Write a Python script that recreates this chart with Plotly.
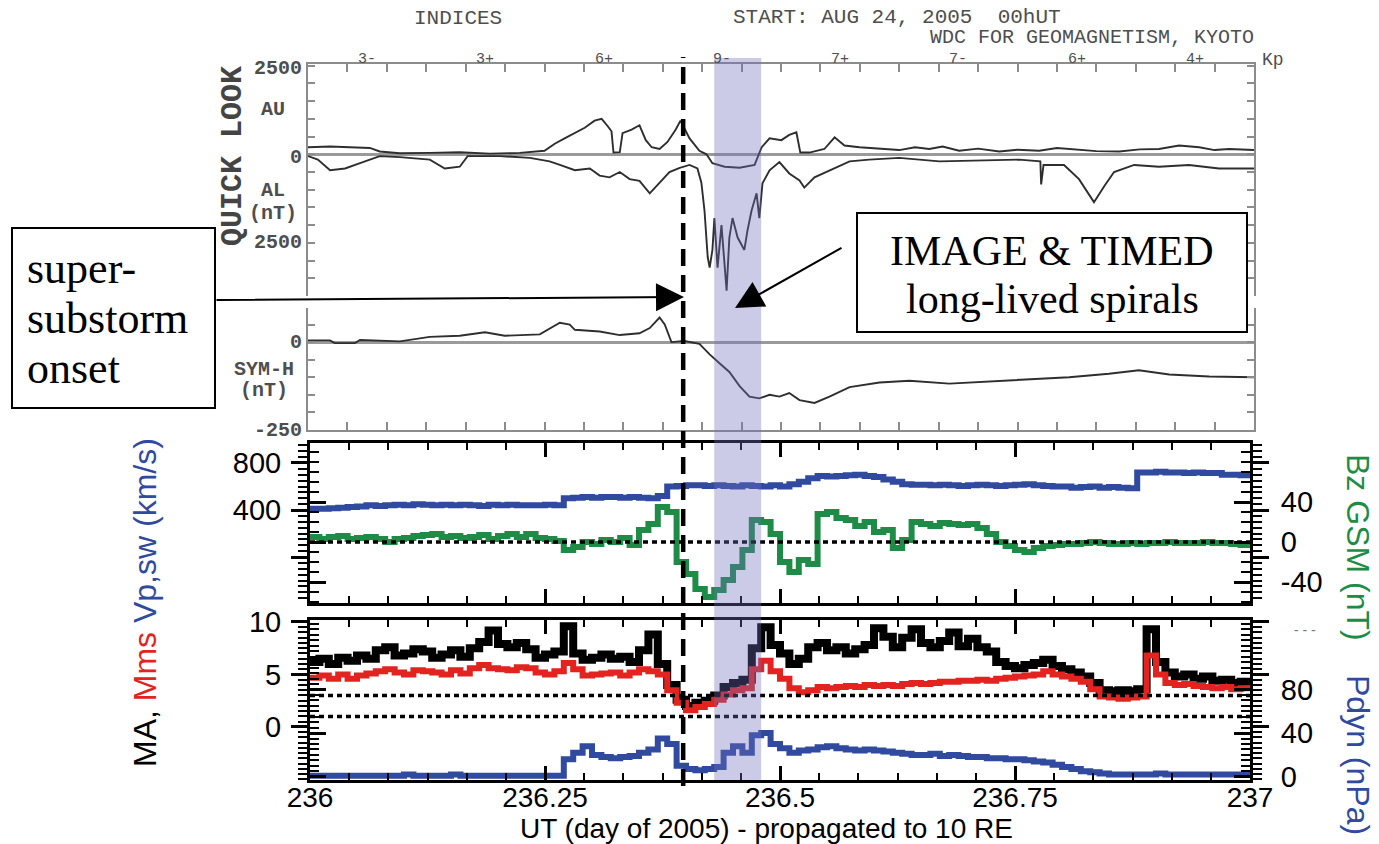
import numpy as np
import plotly.graph_objects as go

W, H = 1379, 844


def px(x):
    return x / W


def py(y):
    return 1 - y / H


# ---------------- Kyoto quick-look indices (hours after 00 UT, 24 Aug 2005)
AU_HOURS = [0, 0.56, 1.06, 1.57, 1.82, 2.33, 3.09, 3.85, 4.61, 5.37,
            6.0, 6.26, 6.51, 6.77, 7.02, 7.27, 7.45, 7.60, 7.70, 7.75,
            7.91, 7.98, 8.21, 8.41, 8.57, 8.72, 8.92, 9.12, 9.33, 9.45,
            9.68, 9.93, 10.11, 10.26, 10.57, 10.95, 11.33, 11.51, 11.71, 12.01,
            12.21, 12.39, 12.49, 12.72, 13.10, 13.36, 13.61, 13.99, 14.50, 15.0,
            15.4, 15.76, 16.1, 16.52, 17.0, 17.54, 18.0, 18.55, 19.0, 19.56,
            20.0, 20.58, 21.1, 21.59, 22.1, 22.61, 23.0, 23.37, 24.0]
AU_NT = [200, 220, 200, 180, 80, 30, 40, 60, 20, 40,
         100, 300, 450, 600, 750, 950, 1000, 800, 650, 50,
         60, 600, 700, 820, 400, 200, 150, 350, 700, 950,
         450, 100, 0, -250, -350, -380, -300, 200, 450, 400,
         550, 620, 50, 50, 150, 480, 250, 200, 150, 120,
         200, 150, 220, 100, 160, 80, 130, 100, 180, 120,
         90, 80, 140, 150, 250, 200, 120, 150, 120]

AL_HOURS = [0, 0.25, 0.56, 0.94, 1.32, 1.82, 2.33, 3.09, 3.47, 3.85,
            4.05, 4.87, 5.63, 6.13, 6.39, 6.77, 7.15, 7.40, 7.65, 7.91,
            8.16, 8.41, 8.67, 8.92, 9.17, 9.43, 9.68, 9.88, 9.98, 10.06,
            10.14, 10.19, 10.26, 10.31, 10.39, 10.49, 10.62, 10.69, 10.77, 10.90,
            11.07, 11.15, 11.25, 11.38, 11.45, 11.53, 11.71, 11.96, 12.21, 12.47,
            12.59, 12.85, 13.23, 13.74, 14.24, 15.0, 16.02, 17.03, 18.04, 18.58,
            18.60, 18.66, 18.80, 19.18, 19.56, 19.94, 20.20, 20.45, 20.96, 21.59,
            22.35, 23.11, 24.0]
AL_NT = [-50, -150, -450, -400, -250, -50, -80, -150, -400, -350,
         -50, -50, -100, -200, -300, -450, -400, -600, -650, -500,
         -700, -750, -1100, -800, -500, -380, -300, -400, -800, -1600,
         -2900, -3200, -2700, -1800, -3200, -2000, -3850, -2350, -1800, -2350,
         -2700, -2150, -1600, -1100, -1800, -820, -450, -220, -540, -740,
         -940, -650, -450, -200, -150, -100, -200, -180, -150, -200,
         -850, -300, -300, -300, -700, -1350, -900, -500, -300, -350,
         -300, -400, -400]

SYMH_HOURS = [0, 0.56, 0.68, 1.19, 1.32, 1.82, 2.33, 3.09, 3.85, 4.49,
              4.99, 5.88, 6.39, 6.64, 6.77, 7.40, 7.91, 8.41, 8.67, 8.92,
              9.05, 9.22, 9.55, 9.93, 10.19, 10.44, 10.69, 10.95, 11.2, 11.45,
              11.71, 11.96, 12.21, 12.47, 12.85, 13.23, 13.74, 14.50, 15.26, 16.27,
              17.28, 18.30, 19.31, 20.32, 21.08, 21.85, 22.86, 24.0]
SYMH_NT = [5, 5, -3, -3, 6, 3, 2, 15, 18, 28,
           18, 22, 55, 50, 35, 30, 20, 25, 40, 70,
           50, 0, 3, -5, -35, -60, -85, -125, -155, -160,
           -150, -155, -145, -165, -173, -155, -128, -115, -110, -118,
           -112, -105, -100, -90, -80, -92, -98, -100]

KP_HOURS = [1.5, 4.5, 7.5, 10.5, 13.5, 16.5, 19.5, 22.5]
KP_LABELS = ["3-", "3+", "6+", "9-", "7+", "7-", "6+", "4+"]

# ---------------- solar wind propagated to 10 RE, 0.01-day cadence
DAY = np.round(np.linspace(236.0, 237.0, 101), 2)
VP = [410, 410, 415, 420, 425, 430, 440, 435, 440, 445,
      440, 450, 445, 440, 445, 440, 445, 440, 435, 445,
      440, 445, 440, 440, 440, 445, 440,
      500, 505, 510, 505, 510, 510, 505, 510, 505, 500, 520,
      600, 605, 610, 610, 605, 610, 605, 600, 610, 605, 600,
      610, 600, 620, 640,
      670, 690, 685, 690, 695, 700, 690, 680, 660, 640,
      620, 615, 615, 610, 615, 610, 605, 610, 615, 610,
      605, 610, 615, 620, 610, 605, 600, 600, 590, 595,
      600, 590, 595, 590, 585,
      720, 720, 725, 720, 720, 715, 720, 715, 715, 700, 700, 695, 710]
BZ = [5, 3, 5, 6, 3, 4, 5, 3, 0, 3,
      4, 6, 7, 8, 5, 6, 4, 5, 7, 3,
      6, 8, 5, 8, 4, 3, 1,
      -8, -5, 0, -2, 2, 0, 4, -3, 12, 18, 35,
      30, -20, -32, -47, -55, -48, -38, -25, -8, 22, 20,
      8, -20, -30, -18,
      -22, 28, 30, 24, 22, 16, 20, 10, 12, -6,
      2, 20, 18, 16, 19, 18, 17, 18, 14, 8,
      0, -4, -8, -10, -6, -4, -3, -2, -2, -1,
      0, -1, -2, -2, -1,
      -2, -1, -1, 0, -1, -1, -1, 0, -1, -1, -2, -3, -1]
MA = [6.2, 6.5, 6.0, 6.6, 6.3, 6.8, 6.5, 7.3, 7.6, 6.8,
      7.0, 7.4, 7.2, 6.6, 6.9, 7.3, 6.7, 7.5, 8.1, 9.2,
      7.9, 7.6, 8.0, 7.4, 6.6, 6.9, 7.2,
      9.6, 7.0, 6.4, 6.6, 6.9, 6.5, 6.7, 6.2, 7.3, 8.8, 6.0,
      4.0, 2.6, 2.0, 2.3, 2.5, 3.0, 3.8, 4.2, 4.5, 7.5, 9.5,
      7.8, 7.0, 6.0, 6.5,
      7.6, 8.0, 7.3, 7.6, 7.0, 7.4, 7.8, 9.4, 8.6, 7.6,
      8.5, 9.3, 8.0, 7.6, 8.2, 9.0, 7.7, 8.4, 7.6, 7.2,
      6.2, 5.8, 5.6, 5.9, 6.1, 6.4, 5.8, 5.5, 5.2, 4.8,
      4.2, 3.5, 3.4, 3.5, 3.4,
      3.6, 9.3, 6.2, 5.2, 4.8, 5.0, 4.6, 4.8, 4.4, 4.5, 4.2, 4.3, 4.1]
MMS = [4.7, 4.9, 4.6, 5.0, 4.6, 4.9, 5.1, 5.3, 5.5, 5.2,
       5.0, 5.4, 5.3, 5.2, 5.0, 5.4, 5.1, 5.6, 5.9, 5.6,
       5.5, 5.4, 5.7, 5.6, 5.2, 5.0, 5.3,
       6.1, 5.5, 4.9, 5.0, 5.1, 5.2, 4.9, 5.2, 5.5, 5.3, 5.0,
       3.5, 2.3, 1.6, 1.9, 2.2, 2.6, 3.1, 3.5, 3.7, 5.5, 6.3,
       5.3, 4.6, 3.7, 3.3,
       3.5, 3.8, 3.7, 3.8, 3.9, 3.8, 4.0, 3.9, 4.0, 3.9,
       4.1, 4.2, 4.1, 4.2, 4.3, 4.3, 4.4, 4.4, 4.5, 4.4,
       4.6, 4.7, 4.8, 4.9, 5.0, 5.3, 5.0, 4.8, 4.6, 4.3,
       3.6, 2.9, 2.8, 2.7, 2.8,
       2.9, 6.8, 5.0, 4.2, 4.0, 4.1, 3.9, 3.8, 3.7, 3.8, 3.6, 3.7, 3.6]
PDYN = [1, 1, 1, 1, 1, 1, 1, 1, 1, 1,
        2, 1, 1, 1, 1, 2, 1, 1, 1, 1,
        1, 1, 1, 1, 1, 1, 1,
        16, 22, 28, 20, 18, 17, 18, 19, 22, 25, 35,
        30, 10, 7, 6, 7, 9, 22, 28, 22, 38, 40,
        30, 26, 22, 24,
        25, 27, 28, 26, 25, 24, 25, 24, 23, 22,
        21, 20, 20, 21, 19, 20, 19, 18, 18, 17,
        17, 16, 16, 15, 14, 13, 11, 9, 7, 5,
        4, 3, 2, 2, 2,
        2, 2, 3, 2, 2, 2, 2, 2, 2, 2, 2, 2, 2]

DAY_TICKS = [236, 236.25, 236.5, 236.75, 237]
DAY_TICKTEXT = ["236", "236.25", "236.5", "236.75", "237"]
MA_REFERENCE_LEVELS = [1, 3]

ONSET_DAY = 236.397
SPIRAL_START, SPIRAL_END = 236.430, 236.480

BLUE = "#2f4a9e"
GREEN = "#1e8c46"
RED = "#e3231f"
GREY_FRAME = "#8c8c8c"
KYOTO_INK = "#2e2e2e"
KYOTO_TEXT = "#4e4e4e"
MONO = "Liberation Mono, Courier New, monospace"
SANS = "Liberation Sans, Arial, Helvetica, sans-serif"
SERIF = "Liberation Serif, Times New Roman, serif"

fig = go.Figure()

# Kyoto panels
fig.add_trace(go.Scatter(x=AU_HOURS, y=AU_NT, xaxis="x", yaxis="y", mode="lines",
                         line=dict(color=KYOTO_INK, width=1.9)))
fig.add_trace(go.Scatter(x=AL_HOURS, y=AL_NT, xaxis="x", yaxis="y", mode="lines",
                         line=dict(color=KYOTO_INK, width=1.9)))
fig.add_trace(go.Scatter(x=SYMH_HOURS, y=SYMH_NT, xaxis="x2", yaxis="y2", mode="lines",
                         line=dict(color=KYOTO_INK, width=1.9)))

# solar wind speed and IMF Bz
fig.add_trace(go.Scatter(x=DAY, y=VP, xaxis="x4", yaxis="y3", mode="lines",
                         line=dict(color=BLUE, width=6, shape="hv")))
fig.add_trace(go.Scatter(x=DAY, y=BZ, xaxis="x4", yaxis="y4", mode="lines",
                         line=dict(color=GREEN, width=6, shape="hv")))

# Mach numbers and dynamic pressure
fig.add_trace(go.Scatter(x=DAY, y=PDYN, xaxis="x3", yaxis="y6", mode="lines",
                         line=dict(color=BLUE, width=6, shape="hv")))
fig.add_trace(go.Scatter(x=DAY, y=MA, xaxis="x3", yaxis="y5", mode="lines",
                         line=dict(color="black", width=8, shape="hv")))
fig.add_trace(go.Scatter(x=DAY, y=MMS, xaxis="x3", yaxis="y5", mode="lines",
                         line=dict(color=RED, width=6, shape="hv")))

kyoto_x = dict(domain=[px(308), px(1254)], range=[0, 24], showline=True,
               linecolor=GREY_FRAME, linewidth=2, ticks="inside", tick0=0, dtick=1,
               ticklen=8, tickwidth=2, tickcolor=GREY_FRAME, showticklabels=False,
               showgrid=False, zeroline=False, automargin=False)
kyoto_y = dict(showline=True, linecolor=GREY_FRAME, linewidth=2, mirror="ticks",
               ticks="inside", tick0=0, ticklen=7, tickwidth=2, tickcolor=GREY_FRAME,
               showticklabels=False, showgrid=False, zeroline=True,
               zerolinecolor="#9a9a9a", zerolinewidth=3, automargin=False)

day_x = dict(domain=[px(310), px(1250)], range=[236, 237], showline=True,
             linecolor="black", linewidth=3, mirror="ticks", ticks="inside",
             tickvals=DAY_TICKS, ticktext=DAY_TICKTEXT, ticklen=14, tickwidth=2.5,
             tickcolor="black",
             minor=dict(tickmode="linear", tick0=236, dtick=1 / 24, ticks="inside",
                        ticklen=7, tickwidth=2, tickcolor="black"),
             showgrid=False, zeroline=False, automargin=False,
             tickfont=dict(family=SANS, size=28, color="black"))


def side_axis(rng, vals, text, minor_step, ticks, **kw):
    d = dict(range=rng, showline=True, linecolor="black", linewidth=3, mirror="ticks",
             ticks=ticks, tickvals=vals, ticktext=text, ticklen=16, tickwidth=2.5,
             tickcolor="black",
             minor=dict(tickmode="linear", tick0=0, dtick=minor_step, ticks=ticks,
                        ticklen=9, tickwidth=2, tickcolor="black"),
             showgrid=False, zeroline=False, automargin=False,
             tickfont=dict(family=SANS, size=29, color="black"))
    d.update(kw)
    return d


fig.update_layout(
    template="none",
    width=W, height=H, autosize=False,
    margin=dict(l=0, r=0, t=0, b=0, pad=0, autoexpand=False),
    paper_bgcolor="white", plot_bgcolor="white",
    showlegend=False,
    xaxis=dict(kyoto_x, anchor="y", side="top"),
    yaxis=dict(kyoto_y, domain=[py(296), py(64)], range=[-4000, 2550], dtick=500, anchor="x"),
    xaxis2=dict(kyoto_x, anchor="y2", side="bottom"),
    yaxis2=dict(kyoto_y, domain=[py(430), py(308)], range=[-250, 97], dtick=50, anchor="x2"),
    xaxis3=dict(day_x, anchor="y5", ticklabelstandoff=-10),
    xaxis4=dict(day_x, anchor="y3", matches="x3", showticklabels=False),
    yaxis3=side_axis([-391, 970], [0, 400, 800], ["", "400", "800"], 50, "outside",
                     domain=[py(603), py(443)], anchor="x4", side="left",
                     ticklabelstandoff=4),
    yaxis4=side_axis([-61, 99], [-40, 0, 40], ["-40", "0", "40"], 10, "inside",
                     overlaying="y3", anchor="x4", side="right", ticklabelstandoff=22),
    yaxis5=side_axis([-5.05, 10.19], [0, 5, 10], ["0", "5", "10"], 0.5, "outside",
                     domain=[py(780), py(620)], anchor="x3", side="left",
                     ticklabelstandoff=4),
    yaxis6=side_axis([-3, 143.6], [0, 40, 80], ["0", "40", "80"], 5, "inside",
                     overlaying="y5", anchor="x3", side="right", ticklabelstandoff=22),
)

shapes = []
# reference levels: Bz = 0 and Mach numbers 1 and 3
shapes.append(dict(type="line", xref="x4 domain", yref="y4", x0=0, x1=1, y0=0, y1=0,
                   line=dict(color="black", width=3.5, dash="5px,4px"), layer="above"))
for lvl in MA_REFERENCE_LEVELS:
    shapes.append(dict(type="line", xref="x3 domain", yref="y5", x0=0, x1=1, y0=lvl, y1=lvl,
                       line=dict(color="black", width=3.5, dash="5px,4px"), layer="above"))
# spiral interval
shapes.append(dict(type="rect", xref="x3", yref="paper", x0=SPIRAL_START, x1=SPIRAL_END,
                   y0=py(780), y1=py(58), fillcolor="#6f6fc0", opacity=0.36,
                   line=dict(width=0), layer="above"))
# substorm onset
shapes.append(dict(type="line", xref="x3", yref="paper", x0=ONSET_DAY, x1=ONSET_DAY,
                   y0=py(786), y1=py(57), line=dict(color="black", width=4.5, dash="17px,9px"),
                   layer="above"))
# annotation boxes
shapes.append(dict(type="rect", xref="paper", yref="paper", x0=px(12), x1=px(215),
                   y0=py(408), y1=py(228), fillcolor="white", line=dict(color="black", width=2),
                   layer="above"))
shapes.append(dict(type="rect", xref="paper", yref="paper", x0=px(857), x1=px(1247),
                   y0=py(332), y1=py(213), fillcolor="white", line=dict(color="black", width=2),
                   layer="above"))
fig.update_layout(shapes=shapes)

ann = []


def text(x, y, s, size, family, color="black", xanchor="center", angle=0, **kw):
    ann.append(dict(x=px(x), y=py(y), xref="paper", yref="paper", text=s, showarrow=False,
                    xanchor=xanchor, yanchor="middle", textangle=angle,
                    font=dict(size=size, family=family, color=color), **kw))


# Kyoto header
text(458, 18, "INDICES", 21, MONO, KYOTO_TEXT)
text(731, 17, "START: AUG 24, 2005  00hUT", 21, MONO, KYOTO_TEXT, xanchor="left")
text(1256, 38, "WDC FOR GEOMAGNETISM, KYOTO", 20, MONO, KYOTO_TEXT, xanchor="right")
for h, k in zip(KP_HOURS, KP_LABELS):
    ann.append(dict(x=h, y=py(59), xref="x", yref="paper", text=k, showarrow=False,
                    xanchor="center", yanchor="middle",
                    font=dict(size=15, family=MONO, color=KYOTO_TEXT)))
text(1273, 60, "Kp", 18, MONO, KYOTO_TEXT)
text(233, 156, "<b>QUICK LOOK</b>", 30, MONO, "#444444", angle=-90)
text(304, 68, "<b>2500</b>", 20, MONO, KYOTO_TEXT, xanchor="right")
text(304, 157, "<b>0</b>", 20, MONO, KYOTO_TEXT, xanchor="right")
text(304, 242, "<b>2500</b>", 20, MONO, KYOTO_TEXT, xanchor="right")
text(273, 110, "<b>AU</b>", 20, MONO, KYOTO_TEXT)
text(273, 190, "<b>AL</b>", 20, MONO, KYOTO_TEXT)
text(273, 213, "<b>(nT)</b>", 20, MONO, KYOTO_TEXT)
text(304, 342, "<b>0</b>", 20, MONO, KYOTO_TEXT, xanchor="right")
text(264, 370, "<b>SYM-H</b>", 20, MONO, KYOTO_TEXT)
text(264, 390, "<b>(nT)</b>", 20, MONO, KYOTO_TEXT)
text(304, 430, "<b>-250</b>", 20, MONO, KYOTO_TEXT, xanchor="right")

# boxed labels
text(25, 268, "super-", 44, SERIF, xanchor="left")
text(25, 318, "substorm", 44, SERIF, xanchor="left")
text(25, 368, "onset", 44, SERIF, xanchor="left")
text(1052, 251, "IMAGE &amp; TIMED", 42, SERIF)
text(1052, 299, "long-lived spirals", 42, SERIF)

# arrows
ann.append(dict(x=px(684), y=py(297), xref="paper", yref="paper", text="", showarrow=True,
                ax=215 - 684, ay=300 - 297, arrowhead=2, arrowsize=2.8, arrowwidth=2,
                arrowcolor="black", standoff=0))
ann.append(dict(x=px(735), y=py(308), xref="paper", yref="paper", text="", showarrow=True,
                ax=843 - 735, ay=247 - 308, arrowhead=2, arrowsize=2.8, arrowwidth=2,
                arrowcolor="black", standoff=0))

# axis titles
text(145, 603, "MA, <span style='color:%s'>Mms</span> <span style='color:%s'>Vp,sw (km/s)</span>"
     % (RED, BLUE), 32, SANS, angle=-90)
text(1358, 547, "Bz GSM (nT)", 32, SANS, GREEN, angle=90)
text(1358, 755, "Pdyn (nPa)", 32, SANS, BLUE, angle=90)
text(1305, 630, "- - -", 14, SANS, "#777777")
text(766, 828, "UT (day of 2005) - propagated to 10 RE", 28, SANS)

fig.update_layout(annotations=ann)

fig.write_html("out.html", config={"displayModeBar": False})
